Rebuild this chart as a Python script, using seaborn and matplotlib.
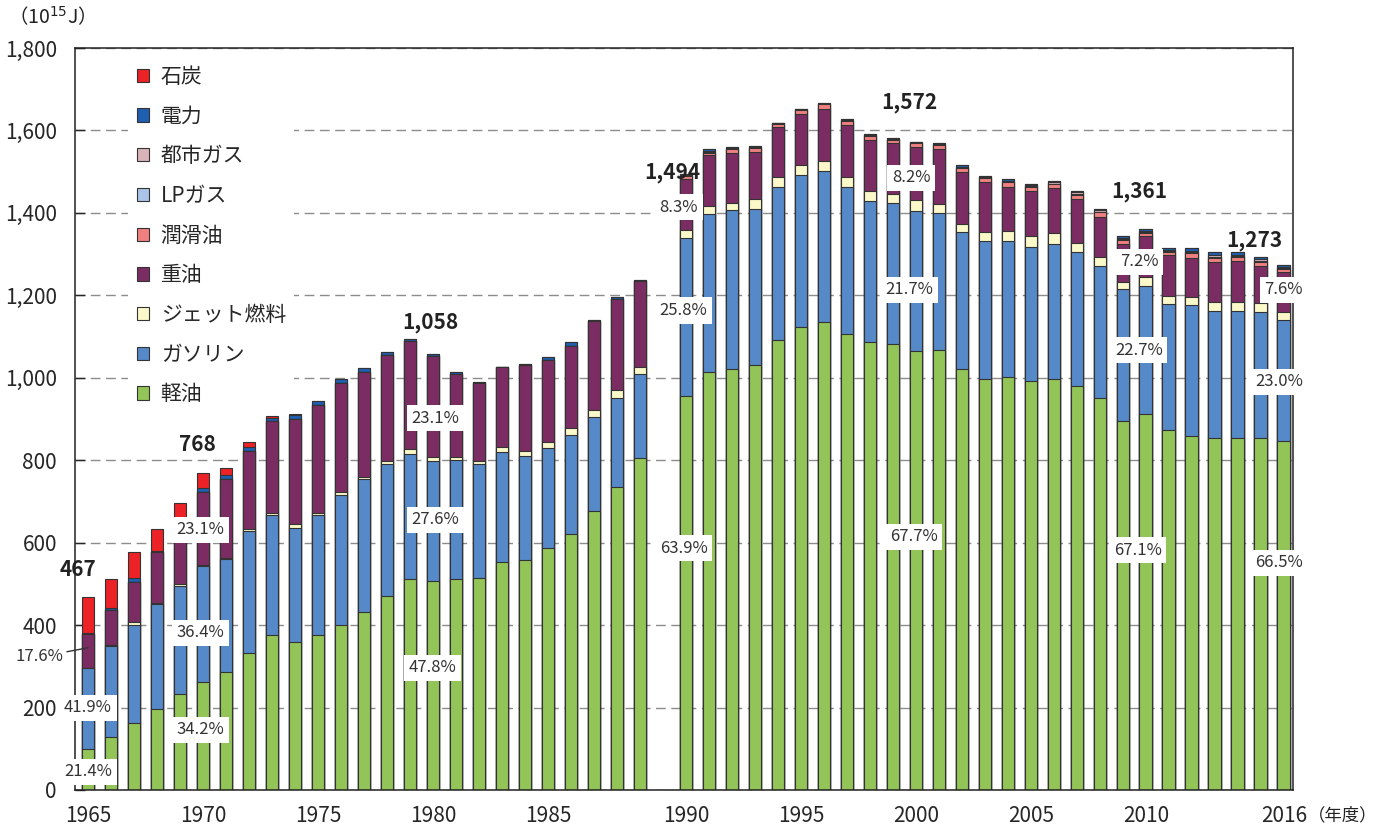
import seaborn as sns
import matplotlib.pyplot as plt
import numpy as np
import pandas as pd
from matplotlib.patches import Patch

# fiscal years, 1989 and 1990 are separated by an empty slot (statistics changed)
years = list(range(1965, 1990)) + list(range(1990, 2017))

diesel = [100, 129, 163, 196, 232, 263, 286, 333, 376, 358, 376, 400, 433, 471, 513, 506, 512, 514, 553, 558, 586, 621, 677, 735, 805,
          955, 1014, 1022, 1032, 1092, 1122, 1135, 1107, 1087, 1081, 1064, 1068, 1022, 997, 1003, 991, 998, 980, 950, 895, 913, 874, 859, 855, 855, 855, 847]
gasoline = [196, 221, 238, 255, 264, 280, 274, 296, 290, 277, 290, 316, 321, 319, 302, 292, 289, 277, 268, 253, 244, 240, 227, 217, 203,
            385, 384, 384, 378, 372, 369, 366, 355, 342, 342, 341, 331, 331, 336, 330, 326, 326, 324, 320, 320, 309, 305, 317, 307, 307, 304, 293]
jet = [1, 1, 6, 2, 3, 3, 2, 3, 5, 10, 5, 8, 6, 7, 12, 11, 8, 8, 11, 11, 13, 16, 18, 18, 19,
       18, 18, 18, 24, 24, 26, 25, 26, 23, 22, 26, 22, 20, 20, 23, 26, 27, 24, 22, 18, 23, 19, 19, 23, 23, 22, 20]
heavy = [82, 85, 98, 124, 145, 177, 192, 190, 224, 256, 263, 263, 255, 259, 263, 244, 199, 188, 193, 209, 199, 201, 215, 222, 208,
         124, 124, 122, 113, 121, 124, 127, 126, 124, 124, 129, 135, 126, 123, 108, 111, 109, 106, 99, 91, 98, 99, 95, 95, 99, 91, 97]
lube = [0] * 25 + [7, 6, 8, 10, 7, 8, 10, 9, 10, 8, 9, 8, 9, 8, 10, 9, 10, 10, 10, 10, 9, 9, 12, 10, 9, 10, 8]
lpg = [0] * 25 + [2, 2, 2, 2, 1, 1, 1, 2, 2, 2, 1, 1, 2, 2, 2, 2, 1, 1, 2, 2, 2, 2, 2, 2, 2, 2, 2]
citygas = [0] * 25 + [1, 1, 1, 1, 1, 1, 1, 1, 2, 1, 1, 1, 2, 2, 2, 2, 5, 5, 5, 3, 2, 2, 3, 5, 4, 3, 2]
power = [2, 5, 10, 3, 8, 10, 9, 10, 8, 8, 10, 10, 8, 6, 4, 5, 7, 2, 2, 2, 8, 8, 4, 5, 2,
         2, 5, 3, 2, 1, 1, 1, 1, 1, 1, 1, 4, 4, 2, 4, 3, 2, 2, 2, 5, 5, 5, 7, 8, 5, 5, 4]
coal = [86, 71, 62, 53, 45, 35, 17, 11, 5, 3] + [0] * 42

series = ['軽油', 'ガソリン', 'ジェット燃料', '重油', '潤滑油', 'LPガス', '都市ガス', '電力', '石炭']
colors = ['#92C457', '#5589C8', '#FBF8C9', '#7B2D63', '#F08080', '#A9C4E6', '#D8B4B8', '#1F5FB0', '#EC2227']

tick_years = [1965, 1970, 1975, 1980, 1985, 1990, 1995, 2000, 2005, 2010, 2016]
total_years = [1965, 1970, 1980, 1990, 2000, 2010, 2016]

# share labels: text and where the white box sits (slot, value)
share_text = ['21.4%', '41.9%', '23.1%', '36.4%', '34.2%', '23.1%', '27.6%', '47.8%',
              '8.3%', '25.8%', '63.9%', '8.2%', '21.7%', '67.7%', '7.2%', '22.7%', '67.1%',
              '7.6%', '23.0%', '66.5%']
share_x = [0, 0, 4.9, 4.9, 4.9, 15.1, 15.1, 15.0, 25.7, 25.9, 25.9, 35.8, 35.7, 35.9,
           45.7, 45.7, 45.65, 52.0, 51.8, 51.8]
share_y = [44, 199, 631, 381, 146, 902, 655, 296, 1414, 1163, 587, 1485, 1213, 614,
           1281, 1067, 582, 1213, 990, 551]
total_dx = [-0.45, -0.25, -0.1, -0.6, -0.3, -0.3, -1.3]
total_dy = [67, 69, 77, 5, 97, 90, 61]

df = pd.DataFrame({'year': years, '軽油': diesel, 'ガソリン': gasoline, 'ジェット燃料': jet,
                   '重油': heavy, '潤滑油': lube, 'LPガス': lpg, '都市ガス': citygas,
                   '電力': power, '石炭': coal})
df['pos'] = df['year'] - 1965 + (df['year'] >= 1990).astype(int)
cum = df[series].cumsum(axis=1)
df['total'] = cum[series[-1]]

sns.set_style('white')
plt.rcParams['font.family'] = ['Noto Sans CJK JP', 'DejaVu Sans']

fig = plt.figure(figsize=(13.8, 8.35), dpi=100)
ax = fig.add_axes([75 / 1380, 45 / 835, 1218 / 1380, 742 / 835])

# stacked bars: draw cumulative heights from the top series down
for name, col in zip(series[::-1], colors[::-1]):
    sns.barplot(x=df['pos'], y=cum[name], native_scale=True, orient='x', color=col,
                saturation=1, width=0.55, edgecolor='#333333', linewidth=0.8,
                errorbar=None, ax=ax, zorder=2)

ax.set_xlim(-0.565, 52.4)
ax.set_ylim(0, 1800)
ax.set_yticks(range(0, 1801, 200))
ax.set_yticklabels([f'{v:,}' for v in range(0, 1801, 200)], fontsize=15)
ax.yaxis.grid(True, linestyle=(0, (7, 4)), color='#8c8c8c', linewidth=1)
ax.set_axisbelow(True)

tick_pos = [y - 1965 + (y >= 1990) for y in tick_years]
ax.set_xticks(tick_pos)
ax.set_xticklabels([str(y) for y in tick_years], fontsize=15)
ax.set_xticks(np.arange(-0.5, 52.5, 1), minor=True)
ax.tick_params(axis='x', which='major', length=0, pad=11)
ax.tick_params(axis='x', which='minor', direction='in', length=4, width=1, color='#333333')
ax.tick_params(axis='y', direction='in', length=7, width=1, pad=13, left=True)
ax.set_xlabel('')
ax.set_ylabel('')
for s in ax.spines.values():
    s.set_visible(True)
    s.set_color('#222222')
    s.set_linewidth(1.1)

# totals
for yr, dx, dy in zip(total_years, total_dx, total_dy):
    row = df[df['year'] == yr].iloc[0]
    ax.text(row['pos'] + dx, row['total'] + dy, f"{int(row['total']):,}", ha='center',
            va='center', fontsize=15, fontweight='bold', color='#222222', zorder=5)

box = dict(boxstyle='square,pad=0.28', fc='white', ec='none')
for t, x, y in zip(share_text, share_x, share_y):
    ax.text(x, y, t, ha='center', va='center', fontsize=12, color='#333333', bbox=box, zorder=6)

ax.annotate('17.6%', xy=(0, 345), xytext=(-2.1, 323), ha='center', va='center', fontsize=12,
            color='#333333', annotation_clip=False, zorder=6,
            arrowprops=dict(arrowstyle='-', color='#333333', lw=1, shrinkA=0, shrinkB=0))

handles = [Patch(facecolor=c, edgecolor='#333333', linewidth=0.8, label=n)
           for n, c in zip(series[::-1], colors[::-1])]
leg = ax.legend(handles=handles, loc='upper left', bbox_to_anchor=(43 / 1218, 1 + 1 / 742),
                fontsize=15, frameon=True, facecolor='white', edgecolor='none', framealpha=1,
                handlelength=0.6, handleheight=0.6, handletextpad=0.55, labelspacing=0.85,
                borderpad=0.4)
leg.set_zorder(4)

fig.text(8 / 1380, 1 - 17 / 835, '（10$^{15}$J）', ha='left', va='center', fontsize=14, color='#222222')
fig.text(1308 / 1380, 1 - 815 / 835, '（年度）', ha='left', va='center', fontsize=12.5, color='#222222')

fig.savefig('out.png', dpi=100, facecolor='white')
